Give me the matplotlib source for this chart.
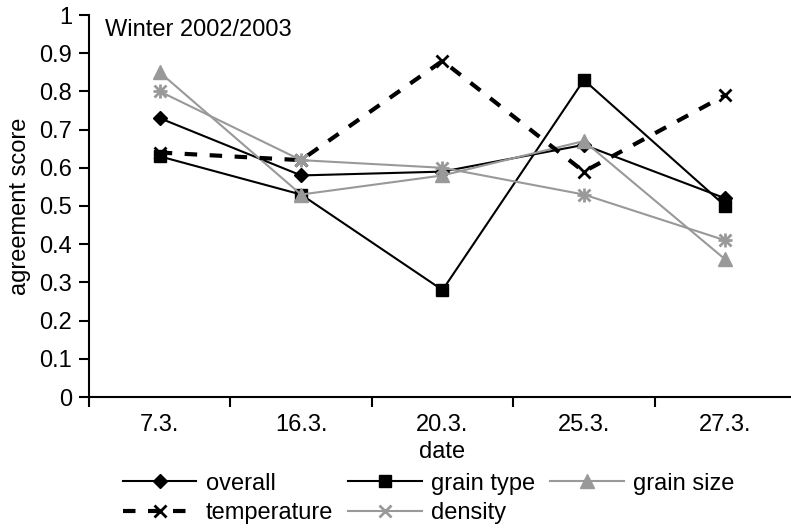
import matplotlib.pyplot as plt
import numpy as np

plt.rcParams['font.family'] = ['Liberation Sans', 'DejaVu Sans']

dates = ["7.3.", "16.3.", "20.3.", "25.3.", "27.3."]
overall = [0.73, 0.58, 0.59, 0.66, 0.52]
grain_type = [0.63, 0.53, 0.28, 0.83, 0.50]
grain_size = [0.85, 0.53, 0.58, 0.67, 0.36]
temperature = [0.64, 0.62, 0.88, 0.59, 0.79]
density = [0.80, 0.62, 0.60, 0.53, 0.41]

gray = "#999999"
fs = 17

fig = plt.figure(figsize=(7.91, 5.28), dpi=100)
ax = fig.add_axes([89 / 791, 1 - 397 / 528, (796 - 89) / 791, (397 - 15) / 528])
x = np.arange(len(dates))

h_ov, = ax.plot(x, overall, color="black", lw=1.5, marker="D", ms=7, label="overall")
h_gt, = ax.plot(x, grain_type, color="black", lw=1.5, marker="s", ms=9, label="grain type")
h_gs, = ax.plot(x, grain_size, color=gray, lw=1.5, marker="^", ms=10, label="grain size")
h_te, = ax.plot(x, temperature, color="black", lw=3, ls=(0, (3, 3)), marker="x", ms=9,
                mew=2, label="temperature")
h_de, = ax.plot(x, density, color=gray, lw=1.5, marker="x", ms=9, mew=2, label="density")
ax.plot(x, density, color=gray, lw=0, marker="+", ms=10, mew=2)

ax.set_xlim(-0.5, len(dates) - 0.5)
ax.set_ylim(0, 1)
ax.set_yticks(np.arange(0, 1.01, 0.1))
ax.set_yticklabels(["0", "0.1", "0.2", "0.3", "0.4", "0.5", "0.6", "0.7", "0.8", "0.9", "1"])
ax.set_xticks(x)
ax.set_xticklabels(dates)
ax.set_xticks(np.arange(-0.5, len(dates), 1), minor=True)
ax.tick_params(axis="x", which="major", length=0, labelsize=fs, pad=12)
ax.tick_params(axis="x", which="minor", length=7, width=1.5, direction="out")
ax.tick_params(axis="y", length=7, width=1.5, labelsize=fs, direction="out", pad=5)
for s in ["top", "right"]:
    ax.spines[s].set_visible(False)
for s in ["left", "bottom"]:
    ax.spines[s].set_linewidth(1.5)

ax.set_xlabel("date", fontsize=fs, labelpad=4)
ax.set_ylabel("agreement score", fontsize=fs, labelpad=6)
ax.text(0.023, 0.99, "Winter 2002/2003", transform=ax.transAxes, fontsize=fs, va="top")

# row-major order in the reference: overall, grain type, grain size / temperature, density
handles = [h_ov, h_te, h_gt, h_de, h_gs]
lgd = fig.legend(handles=handles, labels=[h.get_label() for h in handles],
                 loc="lower left", bbox_to_anchor=(123 / 791, 0.008), ncol=3, frameon=False,
                 fontsize=fs, handlelength=3.1, columnspacing=0.65, handletextpad=0.4,
                 labelspacing=0.3, borderaxespad=0, borderpad=0)

fig.savefig("out.png", dpi=100)
